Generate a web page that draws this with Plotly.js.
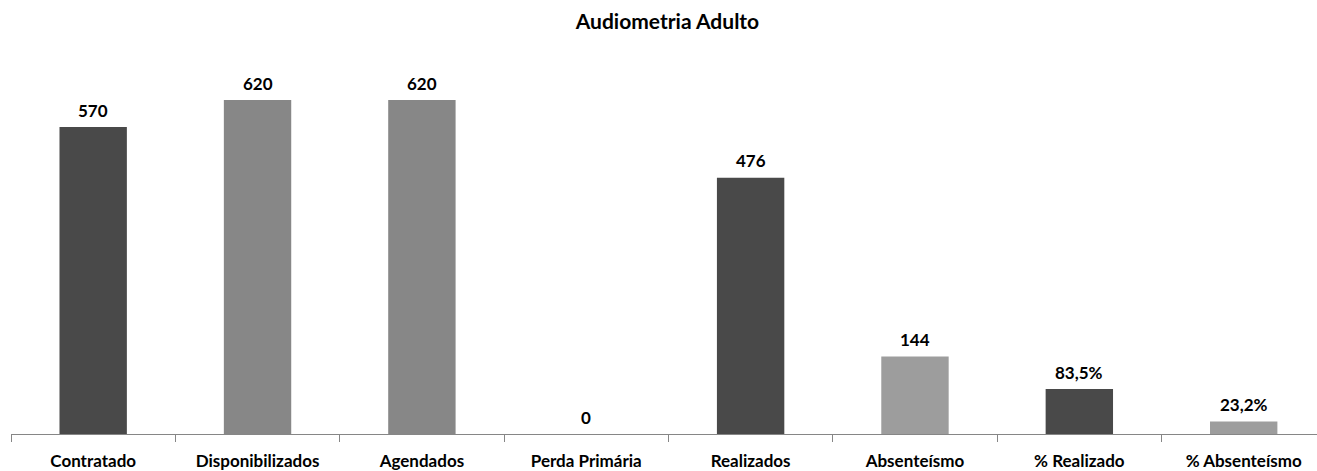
<!DOCTYPE html>
<html>
<head>
<meta charset="utf-8">
<script src="https://cdn.plot.ly/plotly-3.0.1.min.js"></script>
<style>html,body{margin:0;padding:0;background:#fff;}#chart{width:1317px;height:471px;}</style>
</head>
<body>
<div id="chart"></div>
<script>
const categories = ['Contratado','Disponibilizados','Agendados','Perda Primária','Realizados','Absenteísmo','% Realizado','% Absenteísmo'];
const values = [570, 620, 620, 0, 476, 144, 83.5, 23.2];
const valueLabels = ['570','620','620','0','476','144','83,5%','23,2%'];
const chartTitle = 'Audiometria Adulto';

const barColors = ['#494949','#878787','#878787','#878787','#494949','#9d9d9d','#494949','#9d9d9d'];
const FONT = 'Lato, "Open Sans", sans-serif';

const trace = {
  type: 'bar',
  x: categories,
  y: values,
  width: 0.41,
  marker: {color: barColors, line: {width: 0}},
  hoverinfo: 'x+y'
};

const annotations = categories.map((c, i) => ({
  x: c, y: values[i], xref: 'x', yref: 'y',
  text: valueLabels[i], showarrow: false,
  yanchor: 'middle', yshift: 17,
  font: {family: FONT, size: 17, color: '#000', weight: 'bold'}
}));

const layout = {
  width: 1317, height: 471,
  margin: {l: 11, r: 0, t: 57, b: 37, pad: 0},
  paper_bgcolor: '#fff', plot_bgcolor: '#fff',
  showlegend: false,
  title: {text: chartTitle, xref: 'container', yref: 'container', x: 0.5068, y: 1 - 22/471,
          xanchor: 'center', yanchor: 'middle',
          font: {family: FONT, size: 21, color: '#000', weight: 'bold'}},
  xaxis: {
    type: 'category', range: [-0.5, 7.446],
    showline: true, linecolor: '#868686', linewidth: 1,
    ticks: 'outside', ticklen: 7, tickcolor: '#868686', tickwidth: 1,
    tickson: 'boundaries', showgrid: false, zeroline: false,
    ticklabelstandoff: 12,
    tickfont: {family: FONT, size: 17, color: '#000', weight: 'bold'},
    fixedrange: true
  },
  yaxis: {
    range: [0, 700], visible: false, showgrid: false, zeroline: false, fixedrange: true
  },
  annotations: annotations
};

Plotly.newPlot('chart', [trace], layout, {displayModeBar: false, staticPlot: true});
</script>
</body>
</html>
